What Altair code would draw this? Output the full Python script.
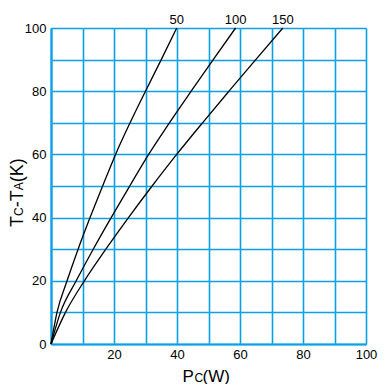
import altair as alt
import pandas as pd

# Temperature rise TC-TA (K) and collector dissipation PC (W) per curve
temp_rise = [0, 10, 20, 30, 40, 50, 60, 70, 80, 90, 100]
pc_50 = [0, 1.9, 5.1, 8.6, 12.4, 16.4, 20.5, 25.1, 30.0, 35.0, 39.9]
pc_100 = [0, 3.0, 8.0, 13.4, 19.1, 25.0, 31.0, 37.6, 44.5, 51.5, 58.6]
pc_150 = [0, 4.6, 10.6, 17.4, 24.6, 32.1, 39.9, 48.1, 56.5, 65.0, 73.6]
series_names = ["50", "100", "150"]
x_ticks = list(range(0, 101, 10))
y_ticks = list(range(0, 101, 10))

rows = []
for name, xs in zip(series_names, [pc_50, pc_100, pc_150]):
    for i, (xv, yv) in enumerate(zip(xs, temp_rise)):
        rows.append({"series": name, "pc": xv, "dt": yv, "order": i})
df = pd.DataFrame(rows)
ends = df[df["dt"] == temp_rise[-1]].copy()

BLUE = "#0aa0e6"
FONT = "Liberation Sans"

xscale = alt.Scale(domain=[0, 100], nice=False, zero=False)
yscale = alt.Scale(domain=[0, 100], nice=False, zero=False)

xaxis = alt.Axis(values=x_ticks, labelExpr="datum.value % 20 == 0 && datum.value > 0 ? datum.label : ''",
                 grid=True, gridColor=BLUE, gridWidth=1.6, gridOpacity=1, ticks=False,
                 domainColor=BLUE, domainWidth=2.2, labelFontSize=13, labelColor="black",
                 labelFont=FONT, labelPadding=4, labelOverlap=False, labelFlush=False, title=None)
yaxis = alt.Axis(values=y_ticks, labelExpr="datum.value % 20 == 0 ? datum.label : ''",
                 grid=True, gridColor=BLUE, gridWidth=1.6, gridOpacity=1, ticks=False,
                 domainColor=BLUE, domainWidth=2.2, labelFontSize=13, labelColor="black",
                 labelFont=FONT, labelPadding=5, labelOverlap=False, labelFlush=False, title=None)

lines = alt.Chart(df).mark_line(color="black", strokeWidth=1.3, interpolate="monotone").encode(
    x=alt.X("pc:Q", scale=xscale, axis=xaxis),
    y=alt.Y("dt:Q", scale=yscale, axis=yaxis),
    detail="series:N",
    order="order:Q",
)

labels = alt.Chart(ends).mark_text(fontSize=13, font=FONT, color="black", baseline="alphabetic", dy=-4).encode(
    x=alt.X("pc:Q", scale=xscale, axis=xaxis),
    y=alt.Y("dt:Q", scale=yscale, axis=yaxis),
    text="series:N",
)

layers = [lines, labels]

# x-axis title "PC(W)" with small C
x_pieces = [("P", 17, 131.5), ("C", 12, 143.5), ("(W)", 17, 151.5)]
for s, fs, px in x_pieces:
    layers.append(alt.Chart(ends.head(1)).mark_text(fontSize=fs, font=FONT, color="black",
                                                    align="left", baseline="alphabetic").encode(
        x=alt.value(px), y=alt.value(353.5), text=alt.value(s)))

# y-axis title "TC-TA(K)" with small C and A, rotated
y_pieces = [("T", 18, 11.0), ("C", 12, 8.7), ("-", 18, 6.0), ("T", 18, 11.0), ("A", 12, 8.0), ("(K)", 18, 24.0)]
py = 199.0
for s, fs, adv in y_pieces:
    layers.append(alt.Chart(ends.head(1)).mark_text(fontSize=fs, font=FONT, color="black", angle=270,
                                                    align="left", baseline="alphabetic").encode(
        x=alt.value(-28.0), y=alt.value(py), text=alt.value(s)))
    py -= adv

chart = alt.layer(*layers).properties(
    width=315, height=316,
    autosize=alt.AutoSizeParams(type="none"),
    padding={"left": 43, "top": 20, "right": 12, "bottom": 40},
).configure_view(fill="#d6ecf9", stroke=BLUE, strokeWidth=2.2).configure(background="white")

chart.save("out.html", embed_options={"renderer": "svg", "actions": False})
